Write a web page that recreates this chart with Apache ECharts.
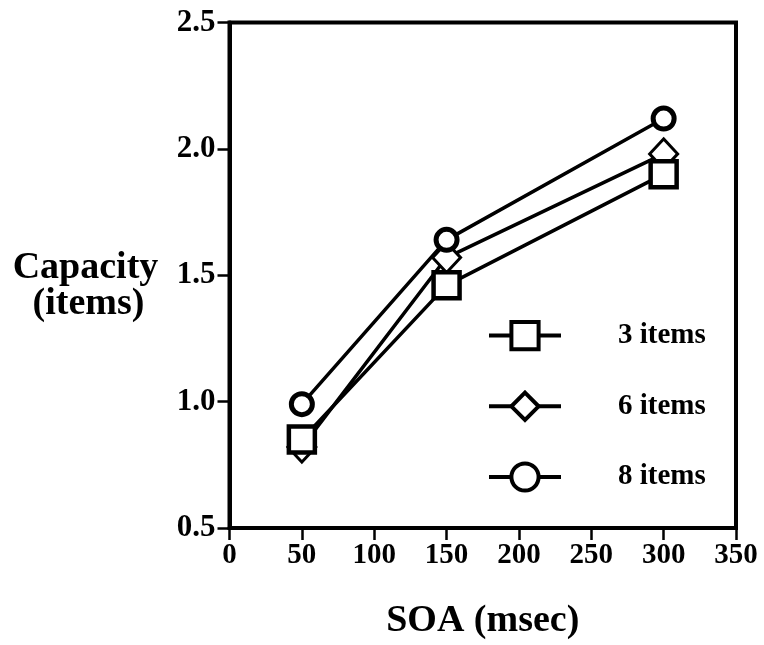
<!DOCTYPE html>
<html>
<head>
<meta charset="utf-8">
<script src="https://cdn.jsdelivr.net/npm/echarts@6/dist/echarts.min.js"></script>
<style>html,body{margin:0;padding:0;background:#fff}#c{width:764px;height:645px}</style>
</head>
<body>
<div id="c"></div>
<script>
var soa = [50, 150, 300];
var items3 = [0.85, 1.46, 1.90];
var items6 = [0.82, 1.57, 1.98];
var items8 = [0.99, 1.64, 2.12];
var seriesNames = ['3 items', '6 items', '8 items'];
var xTicks = [0, 50, 100, 150, 200, 250, 300, 350];
var yTicks = [0.5, 1.0, 1.5, 2.0, 2.5];

var FONT = '"Liberation Serif", "Times New Roman", serif';
function pts(ys) { return soa.map(function (x, i) { return [x, ys[i]]; }); }
var diamond = 'path://M0,-1L1,0L0,1L-1,0Z';
var titleStyle = { fontFamily: FONT, fontWeight: 'bold', fontSize: 38, color: '#000' };

var chart = echarts.init(document.getElementById('c'));
chart.setOption({
  animation: false,
  backgroundColor: '#fff',
  grid: { left: 229.5, right: 28, top: 22.5, bottom: 115, show: true, borderColor: '#000', borderWidth: 4, backgroundColor: 'transparent' },
  legend: {
    orient: 'vertical', left: 482, top: 315,
    itemWidth: 72, itemHeight: 34, itemGap: 39.5,
    data: seriesNames,
    lineStyle: { color: '#000', width: 4 },
    itemStyle: { color: '#fff', borderColor: '#000', borderWidth: 4 },
    textStyle: { fontFamily: FONT, fontWeight: 'bold', fontSize: 29, color: '#000', padding: [0, 0, 0, 52] }
  },
  xAxis: {
    type: 'value', min: xTicks[0], max: xTicks[xTicks.length - 1], interval: 50,
    axisLine: { lineStyle: { color: '#000', width: 4 } },
    axisTick: { length: 12, lineStyle: { color: '#000', width: 2.5 } },
    splitLine: { show: false },
    axisLabel: { fontFamily: FONT, fontWeight: 'bold', fontSize: 29, color: '#000', margin: 13 },
    name: 'SOA (msec)', nameLocation: 'middle', nameGap: 93,
    nameTextStyle: { fontFamily: FONT, fontWeight: 'bold', fontSize: 38, color: '#000', verticalAlign: 'middle' }
  },
  yAxis: {
    type: 'value', min: yTicks[0], max: yTicks[yTicks.length - 1], interval: 0.5,
    axisLine: { lineStyle: { color: '#000', width: 4 } },
    axisTick: { length: 12, lineStyle: { color: '#000', width: 2.5 } },
    splitLine: { show: false },
    axisLabel: { fontFamily: FONT, fontWeight: 'bold', fontSize: 31, color: '#000', margin: 14,
      formatter: function (v) { return v.toFixed(1); } },
    name: '{p|Capacity}\n{q|(items)}', nameLocation: 'middle', nameRotate: 0, nameGap: 144,
    nameTextStyle: {
      fontFamily: FONT, fontWeight: 'bold', fontSize: 38, color: '#000', align: 'center', verticalAlign: 'middle',
      rich: {
        p: Object.assign({ lineHeight: 36, padding: [22, 0, 0, 0] }, titleStyle),
        q: Object.assign({ lineHeight: 36, padding: [22, 0, 0, 6] }, titleStyle)
      }
    }
  },
  series: [
    { name: seriesNames[0], type: 'line', data: pts(items3), symbol: 'rect', symbolSize: 26,
      lineStyle: { color: '#000', width: 3.5 }, itemStyle: { color: '#fff', borderColor: '#000', borderWidth: 4.5 }, z: 4 },
    { name: seriesNames[1], type: 'line', data: pts(items6), symbol: diamond, symbolSize: [28, 30],
      lineStyle: { color: '#000', width: 3.5 }, itemStyle: { color: '#fff', borderColor: '#000', borderWidth: 3 }, z: 3 },
    { name: seriesNames[2], type: 'line', data: pts(items8), symbol: 'circle', symbolSize: 21,
      lineStyle: { color: '#000', width: 3.5 }, itemStyle: { color: '#fff', borderColor: '#000', borderWidth: 5 }, z: 5 }
  ]
});
</script>
</body>
</html>
